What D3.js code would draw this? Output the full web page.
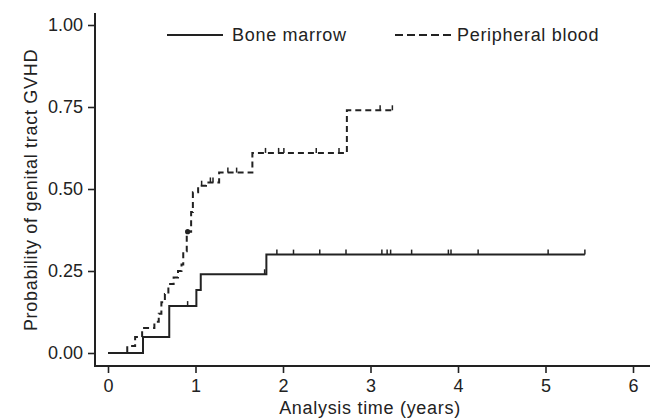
<!DOCTYPE html>
<html>
<head>
<meta charset="utf-8">
<script src="https://cdn.jsdelivr.net/npm/d3@7"></script>
<style>
  html, body { margin: 0; padding: 0; background: #fff; }
  svg { display: block; }
  text { font-family: "Liberation Sans", Arial, sans-serif; fill: #222; }
</style>
</head>
<body>
<svg id="chart" width="654" height="419"></svg>
<script>
// ---- Data ----
const xTicks = [0, 1, 2, 3, 4, 5, 6];
const yTicks = [0, 0.25, 0.5, 0.75, 1];
const yTickLabels = ["0.00", "0.25", "0.50", "0.75", "1.00"];
const seriesNames = ["Bone marrow", "Peripheral blood"];

// Bone marrow: step times and cumulative probability
const bmTimes  = [0, 0.40, 0.70, 1.01, 1.06, 1.81];
const bmValues = [0, 0.049, 0.143, 0.192, 0.240, 0.300];
const bmEnd = 5.45;
const bmCensor = [0.91, 1.79, 1.93, 2.12, 2.42, 2.72, 3.13, 3.19, 3.23, 3.47, 3.89, 3.92, 4.23, 5.03, 5.45];

// Peripheral blood
const pbTimes  = [0, 0.22, 0.31, 0.39, 0.53, 0.58, 0.61, 0.65, 0.69, 0.75, 0.80, 0.84, 0.86, 0.90, 0.95, 0.97, 1.03, 1.12, 1.27, 1.65, 2.73];
const pbValues = [0, 0.021, 0.049, 0.076, 0.095, 0.12, 0.155, 0.18, 0.21, 0.23, 0.25, 0.27, 0.31, 0.37, 0.43, 0.49, 0.51, 0.52, 0.55, 0.61, 0.74];
const pbEnd = 3.26;
const pbCensor = [1.07, 1.17, 1.20, 1.37, 1.47, 1.80, 1.95, 2.01, 2.38, 2.64, 3.11, 3.25];
const pbDot = [0.91];

// ---- Layout ----
const svg = d3.select("#chart");
const ink = "#222";
const x = d3.scaleLinear().domain([0, 6]).range([108, 633]);
const y = d3.scaleLinear().domain([0, 1]).range([353, 25]);
const axisX = 95, axisY = 366;

// Y axis
const gy = svg.append("g").attr("transform", `translate(${axisX},0)`)
  .call(d3.axisLeft(y).tickValues(yTicks).tickFormat((d, i) => yTickLabels[i]).tickSize(7).tickPadding(5).tickSizeOuter(0));
gy.select(".domain").remove();
gy.selectAll(".tick line").attr("stroke", ink).attr("stroke-width", 1.6);
gy.selectAll(".tick text").style("font-size", "18px").attr("fill", ink).attr("font-family", "Liberation Sans, Arial, sans-serif");
svg.append("line").attr("x1", axisX).attr("x2", axisX).attr("y1", 13).attr("y2", axisY + 1)
  .attr("stroke", ink).attr("stroke-width", 2);

// X axis
const gx = svg.append("g").attr("transform", `translate(0,${axisY})`)
  .call(d3.axisBottom(x).tickValues(xTicks).tickFormat(d3.format("d")).tickSize(7).tickPadding(6).tickSizeOuter(0));
gx.select(".domain").remove();
gx.selectAll(".tick line").attr("stroke", ink).attr("stroke-width", 1.6);
gx.selectAll(".tick text").style("font-size", "18px").attr("fill", ink).attr("font-family", "Liberation Sans, Arial, sans-serif");
svg.append("line").attr("x1", axisX - 1).attr("x2", 650).attr("y1", axisY).attr("y2", axisY)
  .attr("stroke", ink).attr("stroke-width", 2);

// Axis titles
svg.append("text").attr("x", 370).attr("y", 414).attr("text-anchor", "middle")
  .style("font-size", "18px").style("letter-spacing", "0.7px").text("Analysis time (years)");
svg.append("text").attr("transform", "translate(37,190) rotate(-90)").attr("text-anchor", "middle")
  .style("font-size", "18px").style("letter-spacing", "0.7px").text("Probability of genital tract GVHD");

// ---- Curves ----
const line = d3.line().x(d => x(d[0])).y(d => y(d[1])).curve(d3.curveStepAfter);
function stepPts(times, vals, end) {
  const pts = times.map((t, i) => [t, vals[i]]);
  pts.push([end, vals[vals.length - 1]]);
  return pts;
}
function valAt(times, vals, t) {
  let v = vals[0];
  for (let i = 0; i < times.length; i++) if (times[i] <= t) v = vals[i];
  return v;
}

svg.append("path").datum(stepPts(bmTimes, bmValues, bmEnd)).attr("d", line)
  .attr("fill", "none").attr("stroke", ink).attr("stroke-width", 2);
svg.append("path").datum(stepPts(pbTimes, pbValues, pbEnd)).attr("d", line)
  .attr("fill", "none").attr("stroke", ink).attr("stroke-width", 2).attr("stroke-dasharray", "6,4");

// Censor ticks
svg.append("g").selectAll("line").data(bmCensor).join("line")
  .attr("x1", d => x(d)).attr("x2", d => x(d))
  .attr("y1", d => y(valAt(bmTimes, bmValues, d))).attr("y2", d => y(valAt(bmTimes, bmValues, d)) - 5)
  .attr("stroke", ink).attr("stroke-width", 1.5);
svg.append("g").selectAll("line").data(pbCensor).join("line")
  .attr("x1", d => x(d)).attr("x2", d => x(d))
  .attr("y1", d => y(valAt(pbTimes, pbValues, d))).attr("y2", d => y(valAt(pbTimes, pbValues, d)) - 5)
  .attr("stroke", ink).attr("stroke-width", 1.5);
svg.append("g").selectAll("circle").data(pbDot).join("circle")
  .attr("cx", d => x(d)).attr("cy", d => y(valAt(pbTimes, pbValues, d)))
  .attr("r", 2.6).attr("fill", ink);

// ---- Legend ----
svg.append("line").attr("x1", 167).attr("x2", 223).attr("y1", 35).attr("y2", 35)
  .attr("stroke", ink).attr("stroke-width", 2);
svg.append("text").attr("x", 232).attr("y", 41).style("font-size", "18px").style("letter-spacing", "0.7px").text(seriesNames[0]);
svg.append("line").attr("x1", 395).attr("x2", 454).attr("y1", 35).attr("y2", 35)
  .attr("stroke", ink).attr("stroke-width", 2).attr("stroke-dasharray", "8,4");
svg.append("text").attr("x", 457).attr("y", 41).style("font-size", "18px").style("letter-spacing", "0.7px").text(seriesNames[1]);
</script>
</body>
</html>
